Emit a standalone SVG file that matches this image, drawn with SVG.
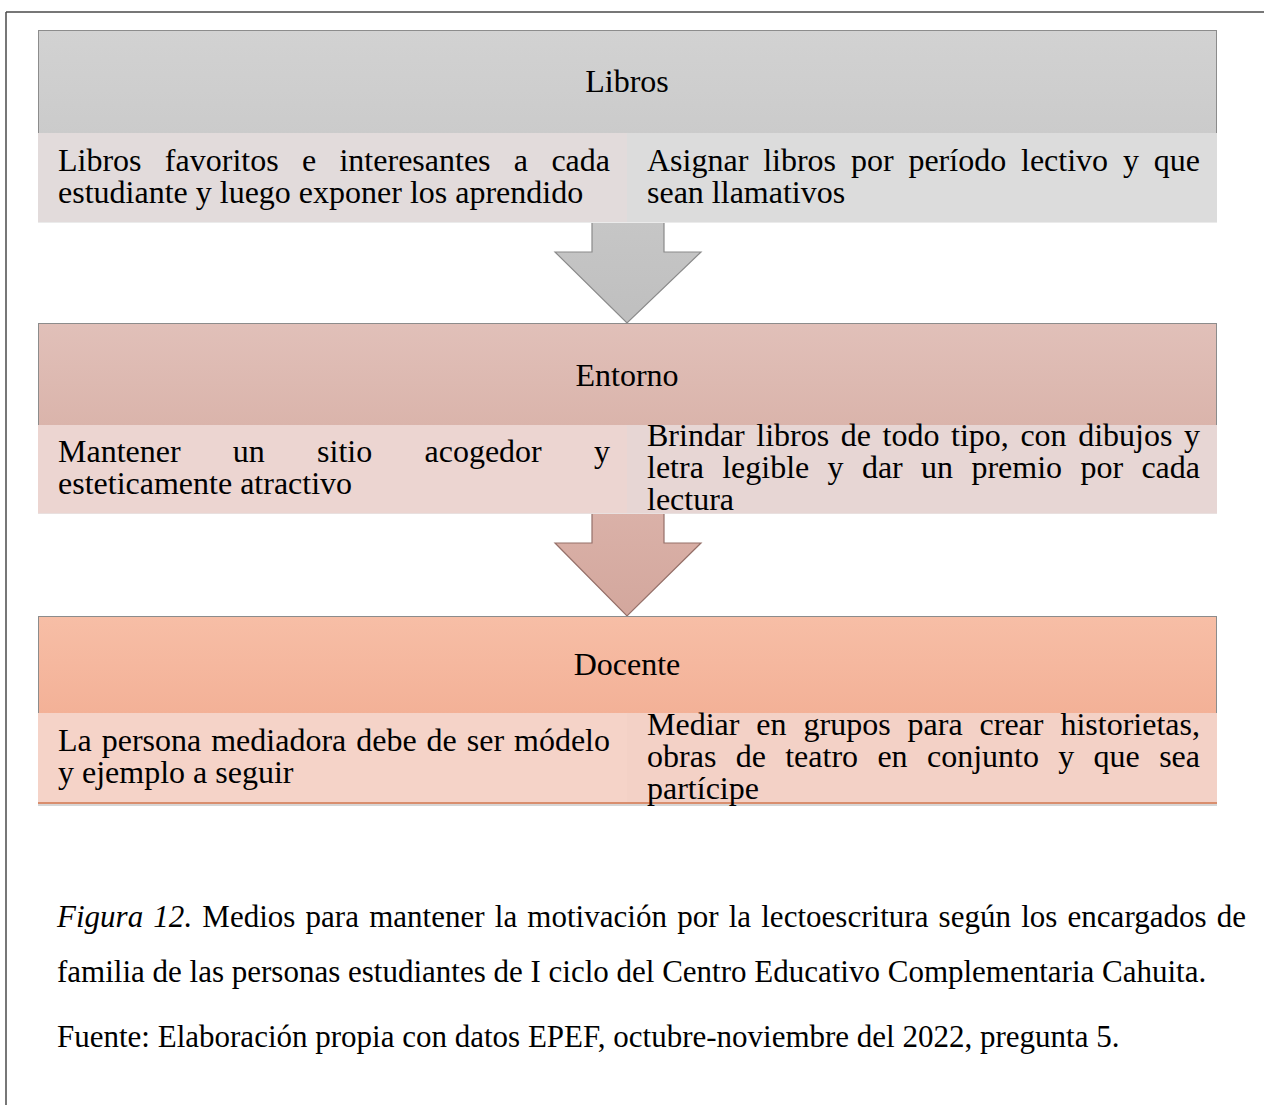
<svg xmlns="http://www.w3.org/2000/svg" width="1264" height="1105" viewBox="0 0 1264 1105">
<style>
  text { font-family: "Liberation Serif", "Times New Roman", serif; font-size: 32px; fill: #000; }
  .cap { font-size: 31px; }
  .hdr { text-anchor: middle; }
  .hstroke { stroke: #8c8c8c; stroke-width: 1; }
  .arrow { stroke-width: 1.2; stroke-linejoin: miter; }
</style>
<defs>
  <linearGradient id="gL" x1="0" y1="0" x2="0" y2="1">
    <stop offset="0" stop-color="#d2d2d2"/>
    <stop offset="1" stop-color="#cbcbcb"/>
  </linearGradient>
  <linearGradient id="gE" x1="0" y1="0" x2="0" y2="1">
    <stop offset="0" stop-color="#e1c0b9"/>
    <stop offset="1" stop-color="#dab4ab"/>
  </linearGradient>
  <linearGradient id="gD" x1="0" y1="0" x2="0" y2="1">
    <stop offset="0" stop-color="#f7bea6"/>
    <stop offset="1" stop-color="#f3b197"/>
  </linearGradient>
  <linearGradient id="gA1" x1="0" y1="0" x2="0" y2="1">
    <stop offset="0" stop-color="#c6c6c6"/>
    <stop offset="1" stop-color="#bfbfbf"/>
  </linearGradient>
  <linearGradient id="gA2" x1="0" y1="0" x2="0" y2="1">
    <stop offset="0" stop-color="#dab1a8"/>
    <stop offset="1" stop-color="#d3a79d"/>
  </linearGradient>
</defs>

<rect width="1264" height="1105" fill="#ffffff"/>

<!-- outer frame -->
<g id="frame" fill="none" stroke="#4a4a4a" stroke-width="1.5">
  <line x1="6" y1="12" x2="1264" y2="12"/>
  <line x1="6" y1="12" x2="6" y2="1105"/>
</g>

<!-- connectors -->
<g id="connectors">
  <polygon class="arrow" fill="url(#gA1)" stroke="#8a8a8a" points="592,222 664,222 664,252 701,252 627,323 555,252 592,252"/>
  <polygon class="arrow" fill="url(#gA2)" stroke="#957069" points="592,513 664,513 664,543 701,543 627,616 555,543 592,543"/>
</g>

<!-- Libros -->
<g id="node-libros">
  <rect x="38.5" y="30.5" width="1178" height="103" fill="url(#gL)" class="hstroke"/>
  <text class="hdr" x="627" y="92">Libros</text>
  <rect x="38" y="133" width="589" height="89" fill="#e2dbdb"/>
  <rect x="627" y="133" width="590" height="89" fill="#dcdcdc"/>
  <line x1="38" y1="222.5" x2="1217" y2="222.5" stroke="#ebebeb" stroke-width="1"/>
  <text x="58" y="171" word-spacing="15.3" textLength="552" lengthAdjust="spacing">Libros favoritos e interesantes a cada</text>
  <text x="58" y="203">estudiante y luego exponer los aprendido</text>
  <text x="647" y="171" word-spacing="6.85" textLength="553" lengthAdjust="spacing">Asignar libros por período lectivo y que</text>
  <text x="647" y="203">sean llamativos</text>
</g>

<!-- Entorno -->
<g id="node-entorno">
  <rect x="38.5" y="323.5" width="1178" height="102" fill="url(#gE)" class="hstroke"/>
  <text class="hdr" x="627" y="386">Entorno</text>
  <rect x="38" y="425" width="589" height="88" fill="#ecd5d1"/>
  <rect x="627" y="425" width="590" height="88" fill="#e7d6d4"/>
  <line x1="38" y1="513.5" x2="1217" y2="513.5" stroke="#e9e0df" stroke-width="1"/>
  <text x="58" y="462" word-spacing="44.25" textLength="552" lengthAdjust="spacing">Mantener un sitio acogedor y</text>
  <text x="58" y="494">esteticamente atractivo</text>
  <text x="647" y="446" word-spacing="3.57" textLength="553" lengthAdjust="spacing">Brindar libros de todo tipo, con dibujos y</text>
  <text x="647" y="478" word-spacing="10.3" textLength="553" lengthAdjust="spacing">letra legible y dar un premio por cada</text>
  <text x="647" y="510">lectura</text>
</g>

<!-- Docente -->
<g id="node-docente">
  <rect x="38.5" y="616.5" width="1178" height="97" fill="url(#gD)" class="hstroke"/>
  <text class="hdr" x="627" y="675">Docente</text>
  <rect x="38" y="713" width="589" height="90" fill="#f5d3c8"/>
  <rect x="627" y="713" width="590" height="90" fill="#f3d1c6"/>
  <line x1="38" y1="803" x2="1217" y2="803" stroke="#d98e6e" stroke-width="2"/>
  <line x1="38" y1="805" x2="1217" y2="805" stroke="#c9c9c9" stroke-width="1.5"/>
  <text x="58" y="751" word-spacing="1.95" textLength="552" lengthAdjust="spacing">La persona mediadora debe de ser módelo</text>
  <text x="58" y="783">y ejemplo a seguir</text>
  <text x="647" y="735" word-spacing="8.9" textLength="553" lengthAdjust="spacing">Mediar en grupos para crear historietas,</text>
  <text x="647" y="767" word-spacing="11.3" textLength="553" lengthAdjust="spacing">obras de teatro en conjunto y que sea</text>
  <text x="647" y="799">partícipe</text>
</g>

<!-- caption -->
<g id="caption">
  <text class="cap" x="57" y="927" word-spacing="2.4" textLength="1189" lengthAdjust="spacing"><tspan font-style="italic">Figura 12.</tspan> Medios para mantener la motivación por la lectoescritura según los encargados de</text>
  <text class="cap" x="57" y="982">familia de las personas estudiantes de I ciclo del Centro Educativo Complementaria Cahuita.</text>
  <text class="cap" x="57" y="1047">Fuente: Elaboración propia con datos EPEF, octubre-noviembre del 2022, pregunta 5.</text>
</g>
</svg>
